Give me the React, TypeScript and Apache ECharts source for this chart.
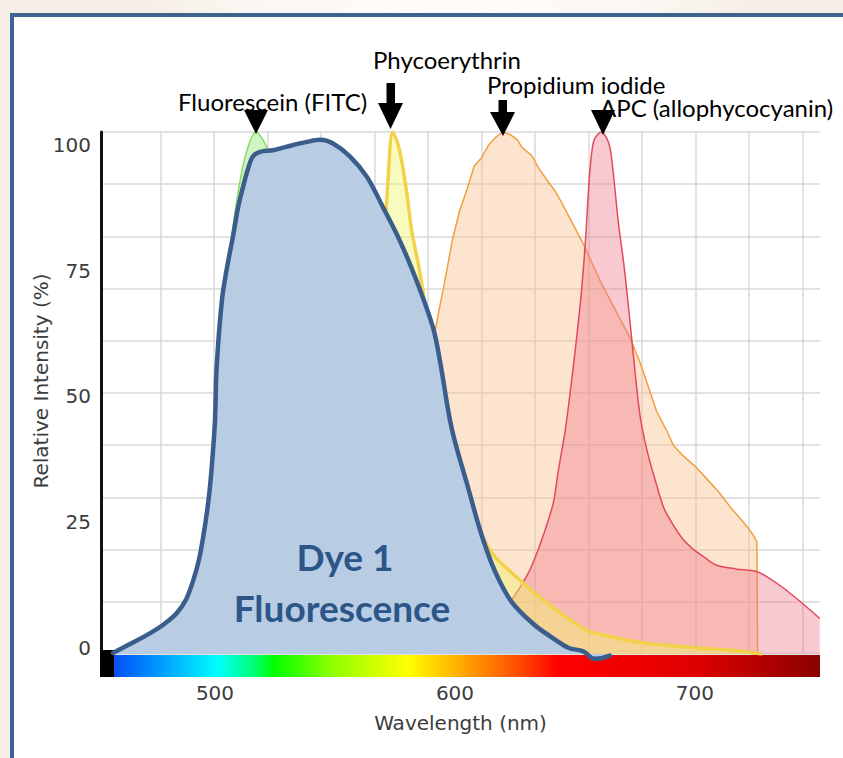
import React, { useEffect, useRef } from 'react';
import * as echarts from 'echarts';

// ---- axis ticks ----
const xTickValues = [500, 600, 700];
const yTickValues = [0, 25, 50, 75, 100];
const gridWavelengths = [477.3, 499.6, 521.9, 544.2, 566.5, 588.8, 611.1, 633.4, 655.7, 678.0, 700.3, 722.6, 744.9];

// ---- Fluorescein (FITC) ----
const fitcWavelength = [470, 480, 488, 495, 500, 503, 505, 507, 510, 513, 517, 520, 522, 525, 530, 540, 550, 560, 575, 590, 605, 620, 635];
const fitcIntensity = [2, 5, 10, 20, 40, 58, 70, 80, 89.5, 96, 100, 98.5, 96.5, 92, 85, 68, 50, 36, 22, 12, 5, 1.5, 0];

// ---- Phycoerythrin ----
const peWavelength = [545, 552, 558, 563, 567, 570, 572, 574, 576, 578, 580, 582, 585, 590, 596, 603, 610, 616, 625, 635, 645, 655, 665, 680, 700, 715, 728];
const peIntensity = [2, 5, 12, 25, 48, 74, 90, 100, 98, 94, 88, 81, 74, 60, 45, 33, 24, 19, 15, 11, 7.5, 4.5, 3.3, 2, 1.2, 0.7, 0];

// ---- Propidium iodide ----
const piWavelength = [550, 560, 570, 580, 587, 591, 593, 596, 599, 602, 605, 608, 611, 614, 617, 620, 623, 626, 628, 632, 635, 638, 642, 645, 649, 653, 657, 661, 665, 669, 673, 677, 680, 684, 688, 691, 695, 700, 705, 710, 715, 721, 724, 725.8, 726.1];
const piIntensity = [3, 8, 20, 38, 52, 60, 65, 72, 79.5, 85, 89, 93.5, 95, 97.5, 99, 100, 99.5, 98.5, 97, 95.5, 93, 91, 88.5, 86, 82.5, 79, 75, 71, 67.5, 64, 60.5, 56, 52, 46.5, 43, 40, 38, 36, 33.5, 31, 28, 24.8, 23, 21.5, 0];

// ---- APC (allophycocyanin) ----
const apcWavelength = [595, 605, 615, 624, 630, 633, 637, 641, 643, 646, 649.3, 651.5, 653, 654.5, 655.5, 656.5, 658, 661, 663, 664.6, 666, 668, 670, 671.5, 674.3, 677, 680, 684, 687, 691, 695, 699, 704, 709, 717, 725.7, 731, 737, 744, 752];
const apcIntensity = [0.5, 2, 5, 10.6, 15, 18, 23, 29, 35, 43, 55, 64, 71, 80, 88, 94, 98.5, 100, 99, 97, 92, 83, 76, 70, 57.4, 46, 39, 32.4, 28, 24.7, 22, 20.2, 18.5, 17, 16.3, 15.8, 14.5, 12.6, 10, 6.8];

// ---- Dye 1 fluorescence ----
const dye1Wavelength = [457.5, 465, 473, 479, 484, 488, 491, 493.3, 495.1, 496.6, 497.9, 499.1, 500, 500.7, 502.9, 505, 507.5, 509.6, 511.7, 513.8, 515.8, 518.8, 524.2, 530, 538.3, 543.8, 549.2, 556.3, 563.3, 570, 577, 584, 590.8, 593.8, 598.6, 605.5, 611.1, 616.7, 623.6, 633.3, 640, 647.2, 653.5, 658, 661, 664.5];
const dye1Intensity = [0.2, 2, 4, 5.8, 7.8, 10.5, 14.2, 18, 22.5, 27, 32, 38.5, 44.8, 55, 67.8, 74, 80, 85.5, 89.5, 93, 95.3, 96.2, 96.5, 97.2, 98.1, 98.5, 97.8, 95.3, 91.4, 85.6, 79.2, 71.5, 62.6, 56, 43.3, 31.8, 22.8, 15.8, 10, 5.5, 3.3, 1.2, 0.5, -0.9, -0.8, -0.3];

const dyeLabels = ['Fluorescein (FITC)', 'Phycoerythrin', 'Propidium iodide', 'APC (allophycocyanin)'];
const axisFont = 'DejaVu Sans';
const noteFont = 'Lato';

const pairs = (xs: number[], ys: number[]) => xs.map((x, i) => [x, ys[i]]);

function buildOption() {
  const gridColor = '#d8d8d8';
  const axisText = { fontFamily: axisFont, fontSize: 20, color: '#3c3c3c' };
  const spectrumStops = [
    { offset: 0, color: '#0a4ff5' },
    { offset: 0.05, color: '#0088ff' },
    { offset: 0.147, color: '#00ffff' },
    { offset: 0.2, color: '#00ff70' },
    { offset: 0.225, color: '#00ff00' },
    { offset: 0.31, color: '#90ff00' },
    { offset: 0.416, color: '#ffff00' },
    { offset: 0.5, color: '#ffa000' },
    { offset: 0.57, color: '#ff5000' },
    { offset: 0.63, color: '#ff0000' },
    { offset: 0.82, color: '#e00000' },
    { offset: 0.94, color: '#a80000' },
    { offset: 1, color: '#8a0000' },
  ];
  const arrow = (pts: number[][]) => ({ type: 'polygon', shape: { points: pts }, style: { fill: '#000' }, z: 100 });
  const shaft = (x: number, y: number, w: number, h: number) => ({ type: 'rect', shape: { x, y, width: w, height: h }, style: { fill: '#000' }, z: 100 });
  const note = (text: string, x: number, y: number) => ({
    type: 'text', x, y, z: 101,
    style: { text, fill: '#000', fontFamily: noteFont, fontSize: 24, textAlign: 'left', textVerticalAlign: 'middle' },
  });
  const dyeText = (text: string, x: number, y: number) => ({
    type: 'text', x, y, z: 101,
    style: { text, fill: '#2b5687', fontFamily: noteFont, fontWeight: 'bold', fontSize: 37, textAlign: 'center', textVerticalAlign: 'middle' },
  });

  const lineSeries = (name: string, data: number[][], line: string, area: string, z: number, smooth: number | boolean, width = 1.5) => ({
    type: 'line', name, data, symbol: 'none', smooth, z, silent: true,
    lineStyle: { color: line, width },
    areaStyle: { color: area, opacity: 1 },
  });

  return {
    animation: false,
    backgroundColor: 'transparent',
    grid: { left: 101, right: 23, top: 132, bottom: 104, containLabel: false },
    xAxis: [{
      type: 'value', min: 452.5, max: 752.1,
      axisLine: { show: false },
      axisTick: { show: false, customValues: gridWavelengths },
      splitLine: { show: true, lineStyle: { color: gridColor, width: 1.5 } },
      axisLabel: { customValues: xTickValues, margin: 29, ...axisText },
      name: 'Wavelength (nm)', nameLocation: 'middle', nameGap: 59,
      nameTextStyle: { ...axisText },
    }],
    yAxis: [
      {
        type: 'value', min: 0, max: 100, interval: 10,
        axisLine: { show: true, lineStyle: { color: '#111', width: 3 } },
        axisTick: { show: false },
        axisLabel: { show: false },
        splitLine: { show: true, lineStyle: { color: gridColor, width: 1.5 } },
        name: 'Relative Intensity (%)', nameLocation: 'middle', nameGap: 50,
        nameTextStyle: { ...axisText, padding: [0, 0, 0, 24] },
      },
      {
        type: 'value', position: 'left', min: -1.19, max: 102.58,
        axisLine: { show: false }, axisTick: { show: false }, splitLine: { show: false },
        axisLabel: { customValues: yTickValues, margin: 10, ...axisText },
      },
    ],
    series: [
      lineSeries('Propidium iodide', pairs(piWavelength, piIntensity), '#f0a040', 'rgba(250,190,140,0.42)', 3, false),
      lineSeries('APC (allophycocyanin)', pairs(apcWavelength, apcIntensity), '#e24a5c', 'rgba(240,120,140,0.40)', 4, 0.3),
      lineSeries('Phycoerythrin', pairs(peWavelength, peIntensity), '#f2d24a', 'rgba(240,245,110,0.45)', 5, 0.3, 3.5),
      lineSeries('Fluorescein (FITC)', pairs(fitcWavelength, fitcIntensity), '#86dc62', 'rgba(150,230,120,0.45)', 6, 0.3),
      {
        type: 'line', name: 'Dye 1', data: pairs(dye1Wavelength, dye1Intensity), symbol: 'none',
        smooth: 0.35, clip: false, z: 10, silent: true,
        lineStyle: { color: '#3a5d8c', width: 4.5, cap: 'round' },
        areaStyle: { color: '#b8cce4', opacity: 1 },
      },
    ],
    graphic: [
      { type: 'rect', shape: { x: 100, y: 650, width: 14, height: 27 }, style: { fill: '#000' }, z: 1 },
      {
        type: 'rect', shape: { x: 114, y: 655, width: 706, height: 22 }, z: 1,
        style: { fill: { type: 'linear', x: 0, y: 0, x2: 1, y2: 0, colorStops: spectrumStops } },
      },
      arrow([[244, 110], [268, 110], [256, 134]]),
      shaft(386.5, 83, 8.5, 21),
      arrow([[378, 103], [403, 103], [390.5, 129]]),
      shaft(498.5, 100, 8.5, 13),
      arrow([[490, 112], [515, 112], [503, 136]]),
      arrow([[591, 110], [615, 110], [603, 135]]),
      note(dyeLabels[0], 178, 101),
      note(dyeLabels[1], 373, 59),
      note(dyeLabels[2], 487, 84),
      note(dyeLabels[3], 600, 107),
      dyeText('Dye 1', 345, 556),
      dyeText('Fluorescence', 342, 607),
    ],
  };
}

export default function App() {
  const ref = useRef<HTMLDivElement>(null);
  useEffect(() => {
    document.body.style.margin = '0';
    if (!ref.current) return;
    const chart = echarts.init(ref.current, undefined, { renderer: 'svg' });
    chart.setOption(buildOption() as any);
    return () => chart.dispose();
  }, []);
  return (
    <div style={{ position: 'relative', width: 843, height: 758, overflow: 'hidden', background: '#f6eee7' }}>
      <div style={{ position: 'absolute', left: 150, top: -40, width: 600, height: 80, borderRadius: '50%', background: 'radial-gradient(ellipse at center, #fffdfb 0%, #fbf6f1 50%, rgba(246,238,231,0) 75%)' }} />
      <div style={{ position: 'absolute', left: 10, top: 13, width: 860, height: 780, border: '4px solid #3d6391', background: '#ffffff' }} />
      <div ref={ref} style={{ position: 'absolute', left: 0, top: 0, width: 843, height: 758 }} />
    </div>
  );
}
